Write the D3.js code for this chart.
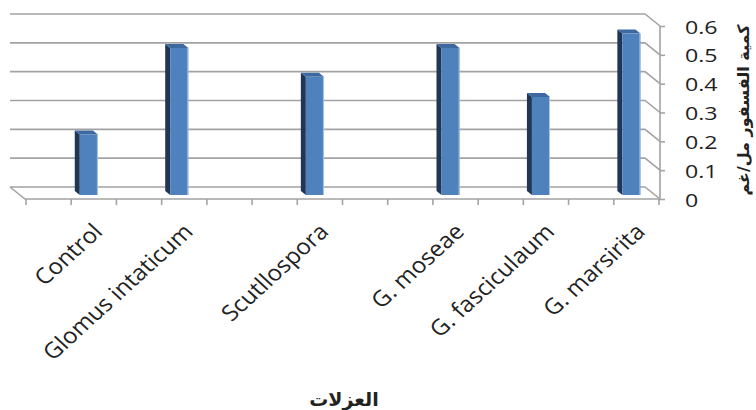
<!DOCTYPE html>
<html>
<head>
<meta charset="utf-8">
<script src="https://cdn.jsdelivr.net/npm/d3@7"></script>
<style>
  html, body { margin: 0; padding: 0; background: #fff; }
  svg { display: block; }
</style>
</head>
<body>
<svg id="chart" width="756" height="410"></svg>
<script>
// Phosphorus content per isolate (3-D column chart, blank rows kept as gaps)
const categories = ["", "Control", "", "Glomus intaticum", "", "", "Scutllospora", "", "",
                    "G. moseae", "", "G. fasciculaum", "", "G. marsirita"];
const values = [null, 0.21, null, 0.51, null, null, 0.41, null, null, 0.51, null, 0.34, null, 0.56];
const yTicks = [0, 0.1, 0.2, 0.3, 0.4, 0.5, 0.6];
const yTitle = "كمية الفسفور مل/غم";
const xTitle = "العزلات";

const svg = d3.select("#chart");
const font = "'Open Sans', sans-serif";

// front plane scales
const x = d3.scaleBand().domain(d3.range(categories.length)).range([26, 659]).padding(0);
const y = d3.scaleLinear().domain([0, 0.6]).range([199, 26]);

// depth offset of the back wall relative to the front plane
const DX = -15, DY = -12;
const gridColor = "#a3a3a3";

const walls = svg.append("g").attr("fill", "none").attr("stroke", gridColor).attr("stroke-width", 1.6);
const x0 = x.range()[0] - 1, x1 = x.range()[1] + 1;

// back wall gridlines plus their run along the right side wall
yTicks.forEach(t => {
  const yf = y(t);
  walls.append("path").attr("d",
    `M${x0 + DX},${yf + DY} L${x1 + DX},${yf + DY} L${x1},${yf}`);
});
// floor: left edge and front edge
walls.append("path").attr("d",
  `M${x0 + DX},${y(0) + DY} L${x0},${y(0)} L${x1},${y(0)}`);

// category tick marks under the front floor edge
walls.selectAll("line.ct").data(d3.range(categories.length + 1)).join("line")
  .attr("class", "ct")
  .attr("x1", i => x.range()[0] + i * x.bandwidth())
  .attr("x2", i => x.range()[0] + i * x.bandwidth())
  .attr("y1", y(0)).attr("y2", y(0) + 6);

// value axis on the right, front edge
const axis = svg.append("g").attr("transform", `translate(${x1},0)`)
  .call(d3.axisRight(y).tickValues(yTicks).tickSize(5)
        .tickFormat(d => d3.format("")(+d.toFixed(1))));
axis.select(".domain").attr("stroke", gridColor).attr("stroke-width", 1.6)
  .attr("d", `M0,${y(0.6)}V${y(0)}`);
axis.selectAll(".tick line").attr("stroke", gridColor).attr("stroke-width", 1.6);
axis.selectAll(".tick text")
  .attr("x", null).attr("dy", null)
  .attr("transform", "translate(25,7) scale(1.22,1)")
  .attr("font-family", font).attr("font-size", 19).attr("fill", "#222");

// bars: front face, left side face, top face
const bd = 1 / 3;                 // bar front sits a third of the way back
const bdx = DX * bd, bdy = DY * bd;
const bw = x.bandwidth() * 0.4;
const bars = svg.append("g");
const data = values.map((v, i) => ({ i, v })).filter(d => d.v != null);

data.forEach(d => {
  const cx = x(d.i) + x.bandwidth() / 2 + bdx;
  const l = cx - bw / 2, r = cx + bw / 2;
  const top = y(d.v) + bdy, base = y(0) + bdy;
  // left side face
  bars.append("path")
    .attr("d", `M${l},${base} L${l + bdx},${base + bdy} L${l + bdx},${top + bdy} L${l},${top} Z`)
    .attr("fill", "#1f3655");
  // top face
  bars.append("path")
    .attr("d", `M${l},${top} L${l + bdx},${top + bdy} L${r + bdx},${top + bdy} L${r},${top} Z`)
    .attr("fill", "#3d68a0");
  // front face
  bars.append("rect")
    .attr("x", l).attr("y", top).attr("width", bw).attr("height", base - top)
    .attr("fill", "#4f81bd");
  bars.append("line")
    .attr("x1", r - 0.5).attr("x2", r - 0.5).attr("y1", top).attr("y2", base)
    .attr("stroke", "#a9c4e6").attr("stroke-width", 1);
});

// rotated category labels
svg.append("g").selectAll("text")
  .data(categories.map((c, i) => ({ c, i })).filter(d => d.c))
  .join("text")
  .attr("transform", d =>
    `translate(${x(d.i) + x.bandwidth() / 2 + 10},${y(0) + 34}) scale(1.1,1) rotate(-45)`)
  .attr("text-anchor", "end")
  .attr("font-family", font).attr("font-size", 22).attr("fill", "#222")
  .text(d => d.c);

// axis titles
svg.append("text")
  .attr("transform", `translate(749,110) rotate(-90)`)
  .attr("text-anchor", "middle")
  .attr("font-family", "'DejaVu Sans', sans-serif").attr("font-weight", "bold")
  .attr("font-size", 16).attr("fill", "#222")
  .attr("direction", "rtl")
  .text(yTitle);

svg.append("text")
  .attr("x", 344).attr("y", 406)
  .attr("text-anchor", "middle")
  .attr("font-family", "'DejaVu Sans', sans-serif").attr("font-weight", "bold")
  .attr("font-size", 19).attr("fill", "#222")
  .attr("direction", "rtl")
  .text(xTitle);
</script>
</body>
</html>
